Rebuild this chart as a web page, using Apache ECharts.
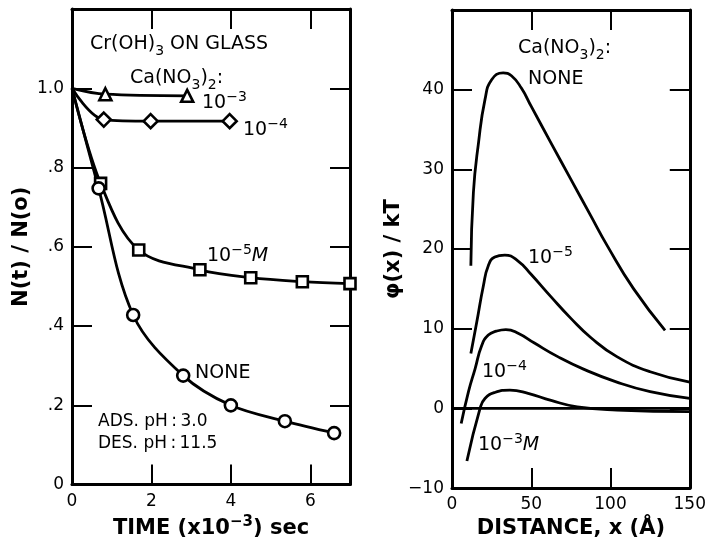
<!DOCTYPE html>
<html>
<head>
<meta charset="utf-8">
<script src="https://cdn.jsdelivr.net/npm/echarts@6/dist/echarts.min.js"></script>
<style>
html,body{margin:0;padding:0;background:#fff;}
#chart{width:709px;height:544px;}
</style>
</head>
<body>
<div id="chart"></div>
<script>
// ---- Left panel: N(t)/N(o) vs time (x10^-3 sec) ----
var timeM3 = [0, 0.84, 2.9];
var ratioM3 = [1.0, 0.985, 0.981];
var timeM4 = [0, 0.8, 1.98, 3.97];
var ratioM4 = [1.0, 0.921, 0.917, 0.917];
var timeM5 = [0, 0.72, 1.68, 3.22, 4.5, 5.8, 7.0];
var ratioM5 = [1.0, 0.76, 0.592, 0.542, 0.522, 0.512, 0.507];
var timeNone = [0, 0.67, 1.54, 2.8, 4.0, 5.36, 6.6];
var ratioNone = [1.0, 0.7475, 0.428, 0.275, 0.2, 0.16, 0.13];

// ---- Right panel: phi(x)/kT vs distance (Angstrom) ----
var distNone = [11.9, 13.5, 16.7, 20.8, 25, 32.3, 37.5, 43.75, 50, 62.5, 75, 87.5, 98, 114.6, 134.4];
var phiNone  = [17.9, 27.1, 33.3, 38.75, 41.25, 42.1, 41.75, 40.2, 37.9, 33.3, 28.75, 24.2, 20.4, 15, 9.8];
var distM5 = [11.9, 15.6, 19.8, 22.9, 27, 33.3, 41.7, 50, 62.5, 75, 87.5, 104, 125, 150];
var phiM5  = [6.9, 10.8, 15.4, 17.9, 19.0, 19.25, 18.5, 16.8, 14.0, 11.3, 8.9, 6.5, 4.6, 3.3];
var distM4 = [5.8, 10.4, 14.6, 18.75, 22.9, 28, 34, 42, 52, 66.7, 83.3, 104, 125, 150];
var phiM4  = [-1.9, 2.1, 5.0, 7.9, 9.2, 9.7, 9.9, 9.4, 8.2, 6.5, 4.9, 3.3, 2.1, 1.25];
var distM3 = [9.4, 17.7, 20.8, 27, 36.5, 48, 62.5, 79, 104, 150];
var phiM3  = [-6.6, 0, 1.25, 2.0, 2.3, 1.9, 1.0, 0.2, -0.2, -0.4];
var zeroDist = [0, 150];
var zeroPhi = [0, 0];

var FONT = 'DejaVu Sans';

function pairs(xs, ys, hideFirst) {
  return xs.map(function (x, i) {
    var item = { value: [x, ys[i]] };
    if (hideFirst && i === 0) item.symbol = 'none';
    return item;
  });
}

function lineSeries(xs, ys, xi, yi, symbol, size, hideFirst, smooth) {
  return {
    type: 'line',
    xAxisIndex: xi,
    yAxisIndex: yi,
    data: pairs(xs, ys, hideFirst),
    smooth: smooth,
    symbol: symbol || 'none',
    symbolSize: size || 12,
    showSymbol: !!symbol,
    lineStyle: { color: '#000', width: 2.8 },
    itemStyle: { color: '#fff', borderColor: '#000', borderWidth: 2.6 },
    z: symbol ? 3 : 2,
    silent: true
  };
}

var tickStyle = { show: true, inside: true, length: 20, lineStyle: { color: '#000', width: 2 } };
var lineAxis = { show: true, onZero: false, lineStyle: { color: '#000', width: 3 } };
var labelStyle = { color: '#000', fontSize: 17, fontFamily: FONT, margin: 8 };
var nameStyle = { color: '#000', fontSize: 21, fontWeight: 'bold', fontFamily: FONT, verticalAlign: 'middle' };

function plainAxis(extra) {
  var a = {
    type: 'value',
    axisLine: lineAxis,
    axisTick: tickStyle,
    splitLine: { show: false },
    axisLabel: { show: false }
  };
  for (var k in extra) a[k] = extra[k];
  return a;
}

var richBase = {
  b: { fontSize: 19, fontFamily: FONT, lineHeight: 27, color: '#000' },
  s: { fontSize: 17, fontFamily: FONT, lineHeight: 22, color: '#000' },
  i: { fontSize: 19, fontFamily: FONT, fontStyle: 'italic', lineHeight: 27, color: '#000' },
  sup: { fontSize: 14, fontFamily: FONT, lineHeight: 14, verticalAlign: 'top', color: '#000' },
  sub: { fontSize: 14, fontFamily: FONT, lineHeight: 14, verticalAlign: 'bottom', color: '#000' }
};

function txt(x, y, text) {
  return {
    type: 'text', x: x, y: y, silent: true,
    style: { text: text, rich: richBase, fill: '#000', fontSize: 19, fontFamily: FONT }
  };
}

var option = {
  animation: false,
  backgroundColor: '#fff',
  grid: [
    { left: 72, top: 9, width: 278, height: 480 },
    { left: 452, top: 10, width: 241, height: 480 }
  ],
  xAxis: [
    plainAxis({
      gridIndex: 0, position: 'bottom', min: 0, max: 7, interval: 2,
      axisLabel: { show: true, showMaxLabel: false, color: '#000', fontSize: 17, fontFamily: FONT, margin: 8 },
      name: '{b|TIME (x10}{sup|−3}{b|) sec}',
      nameLocation: 'middle', nameGap: 36,
      nameTextStyle: {
        color: '#000', fontSize: 21, fontWeight: 'bold', fontFamily: FONT, verticalAlign: 'middle',
        rich: {
          b: { fontSize: 21, fontWeight: 'bold', fontFamily: FONT, lineHeight: 28, color: '#000' },
          sup: { fontSize: 15, fontWeight: 'bold', fontFamily: FONT, lineHeight: 15, verticalAlign: 'top', color: '#000' }
        }
      }
    }),
    plainAxis({ gridIndex: 0, position: 'top', min: 0, max: 7, interval: 2 }),
    plainAxis({
      gridIndex: 1, position: 'bottom', min: 0, max: 150, interval: 50,
      axisLabel: labelStyle,
      name: 'DISTANCE, x (Å)', nameLocation: 'middle', nameGap: 37, nameTextStyle: nameStyle
    }),
    plainAxis({ gridIndex: 1, position: 'top', min: 0, max: 150, interval: 50 })
  ],
  yAxis: [
    plainAxis({
      gridIndex: 0, position: 'left', min: 0, max: 1.2, interval: 0.2,
      axisLabel: {
        show: true, color: '#000', fontSize: 17, fontFamily: FONT, margin: 8,
        formatter: function (v) {
          if (v > 1.1) return '';
          if (v === 0) return '0';
          var s = (Math.round(v * 10) / 10).toFixed(1);
          return s.charAt(0) === '0' ? s.slice(1) : s;
        }
      },
      name: 'N(t) / N(o)', nameLocation: 'middle', nameGap: 50, nameRotate: 90, nameTextStyle: nameStyle
    }),
    plainAxis({ gridIndex: 0, position: 'right', min: 0, max: 1.2, interval: 0.2 }),
    plainAxis({
      gridIndex: 1, position: 'left', min: -10, max: 50, interval: 10,
      axisLabel: {
        show: true, color: '#000', fontSize: 17, fontFamily: FONT, margin: 8,
        formatter: function (v) { return v >= 50 ? '' : String(v).replace('-', '−'); }
      },
      name: 'φ(x) / kT', nameLocation: 'middle', nameGap: 53, nameRotate: 90, nameTextStyle: nameStyle
    }),
    plainAxis({ gridIndex: 1, position: 'right', min: -10, max: 50, interval: 10 })
  ],
  series: [
    lineSeries(timeM3, ratioM3, 0, 0, 'triangle', 12, true, 0.35),
    lineSeries(timeM4, ratioM4, 0, 0, 'diamond', 14, true, 0.35),
    lineSeries(timeM5, ratioM5, 0, 0, 'rect', 11, true, 0.35),
    lineSeries(timeNone, ratioNone, 0, 0, 'circle', 12, true, 0.35),
    lineSeries(distNone, phiNone, 2, 2, null, 0, false, 0.5),
    lineSeries(distM5, phiM5, 2, 2, null, 0, false, 0.5),
    lineSeries(distM4, phiM4, 2, 2, null, 0, false, 0.5),
    lineSeries(distM3, phiM3, 2, 2, null, 0, false, 0.5),
    {
      type: 'line', xAxisIndex: 2, yAxisIndex: 2, silent: true,
      data: pairs(zeroDist, zeroPhi), symbol: 'none', smooth: false,
      lineStyle: { color: '#000', width: 2.6 }
    }
  ],
  graphic: [
    txt(90, 31, '{b|Cr(OH)}{sub|3}{b| ON GLASS}'),
    txt(130, 65, '{b|Ca(NO}{sub|3}{b|)}{sub|2}{b|:}'),
    txt(202, 90, '{b|10}{sup|−3}'),
    txt(243, 117, '{b|10}{sup|−4}'),
    txt(207, 243, '{b|10}{sup|−5}{i|M}'),
    txt(195, 360, '{b|NONE}'),
    txt(98, 411, '{s|ADS. pH\u2009:\u20093.0}'),
    txt(98, 433, '{s|DES. pH\u2009:\u200911.5}'),
    txt(518, 35, '{b|Ca(NO}{sub|3}{b|)}{sub|2}{b|:}'),
    txt(528, 66, '{b|NONE}'),
    txt(528, 245, '{b|10}{sup|−5}'),
    txt(482, 359, '{b|10}{sup|−4}'),
    txt(478, 432, '{b|10}{sup|−3}{i|M}')
  ]
};

var chart = echarts.init(document.getElementById('chart'), null, { renderer: 'canvas' });
chart.setOption(option);
</script>
</body>
</html>
